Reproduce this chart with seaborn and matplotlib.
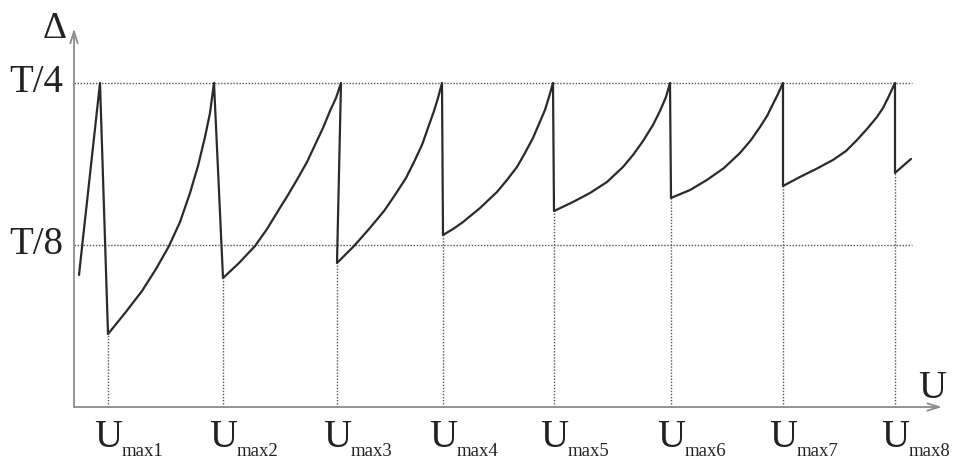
import matplotlib
matplotlib.use("Agg")
import matplotlib.pyplot as plt
import seaborn as sns
import pandas as pd

# Ramp curve of the phase shift Δ (in units of the period T) versus voltage U.
# One line per ramp; each ramp ends at T/4 and falls back at the next U_max.
curve_u = [0.05, 0.26,
           0.34, 0.51, 0.68, 0.82, 0.95, 1.06, 1.16, 1.24, 1.31, 1.36, 1.40,
           1.49, 1.65, 1.81, 1.93, 2.04, 2.14, 2.24, 2.33, 2.41, 2.49, 2.56, 2.62, 2.67,
           2.63, 2.80, 2.95, 3.10, 3.21, 3.32, 3.40, 3.48, 3.54, 3.60, 3.64, 3.68,
           3.69, 3.79, 3.89, 4.06, 4.23, 4.33, 4.43, 4.51, 4.59, 4.65, 4.71, 4.75, 4.79,
           4.80, 4.99, 5.16, 5.33, 5.49, 5.59, 5.69, 5.79, 5.86, 5.92, 5.96,
           5.97, 6.16, 6.33, 6.50, 6.66, 6.77, 6.86, 6.93, 6.99, 7.04, 7.09,
           7.09, 7.26, 7.42, 7.59, 7.72, 7.83, 7.93, 8.03, 8.09, 8.14, 8.21,
           8.21, 8.37]
curve_delta = [0.1019, 0.25,
               0.0563, 0.0725, 0.0895, 0.1065, 0.1242, 0.1427, 0.1651, 0.1860, 0.2083, 0.2269, 0.25,
               0.0995, 0.1111, 0.1242, 0.1373, 0.1512, 0.1636, 0.1767, 0.1890, 0.2022, 0.2153, 0.2284, 0.2384, 0.25,
               0.1111, 0.1242, 0.1373, 0.1512, 0.1636, 0.1767, 0.1890, 0.2022, 0.2153, 0.2284, 0.2384, 0.25,
               0.1327, 0.1373, 0.1427, 0.1535, 0.1659, 0.1752, 0.1852, 0.1960, 0.2076, 0.2184, 0.2292, 0.2392, 0.25,
               0.1512, 0.1582, 0.1651, 0.1736, 0.1852, 0.1944, 0.2052, 0.2176, 0.2284, 0.2392, 0.25,
               0.1613, 0.1674, 0.1752, 0.1844, 0.1960, 0.2060, 0.2160, 0.2245, 0.2338, 0.2415, 0.25,
               0.1705, 0.1775, 0.1836, 0.1906, 0.1975, 0.2060, 0.2145, 0.2238, 0.2307, 0.2384, 0.25,
               0.1806, 0.1914]

# Reset voltages and the level the curve falls to at each of them
umax_u = [0.34, 1.49, 2.63, 3.69, 4.80, 5.97, 7.09, 8.21]
umax_low = [0.0563, 0.0995, 0.1111, 0.1327, 0.1512, 0.1613, 0.1705, 0.1806]
umax_subs = ["max1", "max2", "max3", "max4", "max5", "max6", "max7", "max8"]

# Reference levels on the Δ axis
level_values = [0.25, 0.125]
level_labels = ["T/4", "T/8"]

sns.set_theme(style="white")
plt.rcParams["font.family"] = ["Liberation Serif", "DejaVu Serif"]

fig = plt.figure(figsize=(9.57, 4.59), dpi=100)
ax = fig.add_axes([0, 0, 1, 1])

ink = "#2a2a2a"
dot = "#555555"
axis_col = "#8c8c8c"
text_col = "#222222"
dotted = (0, (1.0, 1.2))

# Axes with open arrow heads
arrow = dict(arrowstyle="->,head_length=0.7,head_width=0.22", color=axis_col, lw=1.3,
             shrinkA=0, shrinkB=0)
ax.annotate("", xy=(8.68, 0.0), xytext=(0.0, 0.0), arrowprops=arrow)
ax.annotate("", xy=(0.0, 0.292), xytext=(0.0, 0.0), arrowprops=arrow)

# Dotted reference levels
for v in level_values:
    ax.plot([0.0, 8.38], [v, v], color=dot, lw=1.0, ls=dotted)

# Dotted drop lines down to the U axis
for u, low in zip(umax_u, umax_low):
    ax.plot([u, u], [0.0, low], color=dot, lw=1.0, ls=dotted)

# The sawtooth curve
df = pd.DataFrame({"U": curve_u, "Delta": curve_delta})
sns.lineplot(data=df, x="U", y="Delta", sort=False, estimator=None,
             color=ink, lw=1.6, ax=ax)
ax.set_xlim(-0.74, 8.83)
ax.set_ylim(-0.0401, 0.3140)
ax.axis("off")

# Level labels
for v, lab in zip(level_values, level_labels):
    ax.text(-0.11, v - 0.0069, lab, fontsize=28, color=text_col,
            ha="right", va="baseline")

# Axis names
ax.text(-0.07, 0.2847, "Δ", fontsize=27, color=text_col, ha="right", va="baseline")
ax.text(8.44, 0.007, "U", fontsize=28, color=text_col, ha="left", va="baseline")

# Tick labels U_max1 ... U_max8
for u, sub in zip(umax_u, umax_subs):
    ax.text(u, -0.0306, "U", fontsize=28, color=text_col, ha="center", va="baseline")
    ax.text(u + 0.14, -0.0378, sub, fontsize=13.5, color=text_col,
            ha="left", va="baseline")

fig.savefig("out.png", dpi=100)
